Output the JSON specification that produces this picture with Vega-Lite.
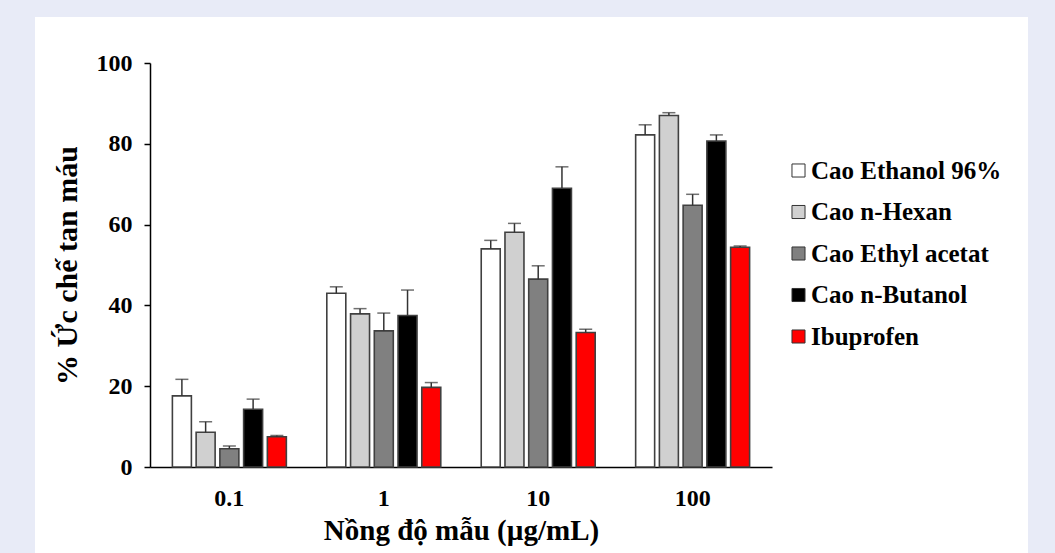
{
  "$schema": "https://vega.github.io/schema/vega-lite/v6.json",
  "width": 993,
  "height": 536,
  "autosize": {"type": "none"},
  "padding": {"left": 35, "top": 17, "right": 27, "bottom": 0},
  "background": "#e8ebf7",
  "config": {"view": {"fill": "white", "stroke": null}, "font": "Liberation Serif"},
  "data": {
    "values": [
      {"conc": "0.1", "series": "Cao Ethanol 96%", "mean": 17.6, "hi": 21.7},
      {"conc": "0.1", "series": "Cao n-Hexan", "mean": 8.6, "hi": 11.2},
      {"conc": "0.1", "series": "Cao Ethyl acetat", "mean": 4.5, "hi": 5.2},
      {"conc": "0.1", "series": "Cao n-Butanol", "mean": 14.3, "hi": 16.8},
      {"conc": "0.1", "series": "Ibuprofen", "mean": 7.5, "hi": 7.8},
      {"conc": "1", "series": "Cao Ethanol 96%", "mean": 43.0, "hi": 44.6},
      {"conc": "1", "series": "Cao n-Hexan", "mean": 37.9, "hi": 39.2},
      {"conc": "1", "series": "Cao Ethyl acetat", "mean": 33.7, "hi": 38.1},
      {"conc": "1", "series": "Cao n-Butanol", "mean": 37.5, "hi": 43.8},
      {"conc": "1", "series": "Ibuprofen", "mean": 19.7, "hi": 20.9},
      {"conc": "10", "series": "Cao Ethanol 96%", "mean": 54.0, "hi": 56.1},
      {"conc": "10", "series": "Cao n-Hexan", "mean": 58.1, "hi": 60.3},
      {"conc": "10", "series": "Cao Ethyl acetat", "mean": 46.5, "hi": 49.8},
      {"conc": "10", "series": "Cao n-Butanol", "mean": 69.0, "hi": 74.3},
      {"conc": "10", "series": "Ibuprofen", "mean": 33.3, "hi": 34.1},
      {"conc": "100", "series": "Cao Ethanol 96%", "mean": 82.2, "hi": 84.7},
      {"conc": "100", "series": "Cao n-Hexan", "mean": 87.0, "hi": 87.7},
      {"conc": "100", "series": "Cao Ethyl acetat", "mean": 64.8, "hi": 67.5},
      {"conc": "100", "series": "Cao n-Butanol", "mean": 80.7, "hi": 82.2},
      {"conc": "100", "series": "Ibuprofen", "mean": 54.4, "hi": 54.7}
    ]
  },
  "encoding": {
    "x": {
      "field": "conc",
      "type": "nominal",
      "sort": ["0.1", "1", "10", "100"],
      "scale": {"range": [115, 737], "paddingInner": 0.262, "paddingOuter": 0.145},
      "axis": {
        "title": "Nồng độ mẫu (µg/mL)",
        "labelAngle": 0,
        "offset": -86,
        "ticks": false,
        "labelPadding": 19,
        "labelFont": "Liberation Serif",
        "labelFontSize": 24,
        "labelFontWeight": "bold",
        "labelColor": "#000",
        "domainColor": "#000",
        "domainWidth": 1.5,
        "titleFont": "Liberation Serif",
        "titleFontSize": 29,
        "titleFontWeight": "bold",
        "titleColor": "#000",
        "titlePadding": 6
      }
    },
    "xOffset": {
      "field": "series",
      "type": "nominal",
      "sort": ["Cao Ethanol 96%", "Cao n-Hexan", "Cao Ethyl acetat", "Cao n-Butanol", "Ibuprofen"],
      "scale": {"paddingInner": 0.2, "paddingOuter": 0}
    },
    "y": {
      "field": "mean",
      "type": "quantitative",
      "title": "% Ức chế tan máu",
      "scale": {"domain": [0, 100], "range": [450, 46], "nice": false},
      "axis": {
        "values": [0, 20, 40, 60, 80, 100],
        "offset": -115,
        "grid": false,
        "tickSize": 6,
        "tickWidth": 1.5,
        "tickColor": "#000",
        "domainColor": "#000",
        "domainWidth": 1.5,
        "labelFont": "Liberation Serif",
        "labelFontSize": 24,
        "labelFontWeight": "bold",
        "labelColor": "#000",
        "labelPadding": 12,
        "titleFont": "Liberation Serif",
        "titleFontSize": 30,
        "titleFontWeight": "bold",
        "titleColor": "#000",
        "titlePadding": 14
      }
    }
  },
  "layer": [
    {
      "mark": {"type": "bar", "stroke": "#404040", "strokeWidth": 1.6},
      "encoding": {
        "fill": {
          "field": "series",
          "type": "nominal",
          "sort": ["Cao Ethanol 96%", "Cao n-Hexan", "Cao Ethyl acetat", "Cao n-Butanol", "Ibuprofen"],
          "scale": {
            "domain": ["Cao Ethanol 96%", "Cao n-Hexan", "Cao Ethyl acetat", "Cao n-Butanol", "Ibuprofen"],
            "range": ["#ffffff", "#d0d0d0", "#808080", "#000000", "#ff0000"]
          },
          "legend": {
            "orient": "none",
            "legendX": 751,
            "legendY": 141,
            "title": null,
            "padding": 0,
            "labelFont": "Liberation Serif",
            "labelFontSize": 25,
            "labelFontWeight": "bold",
            "labelColor": "#000",
            "labelLimit": 0,
            "symbolType": "square",
            "symbolSize": 170,
            "symbolStrokeColor": "#333",
            "symbolStrokeWidth": 1,
            "symbolOpacity": 1,
            "rowPadding": 15.5,
            "labelOffset": 0
          }
        }
      }
    },
    {
      "mark": {"type": "rule", "color": "#333", "strokeWidth": 1.5},
      "encoding": {"y2": {"field": "hi"}}
    },
    {
      "mark": {"type": "tick", "color": "#333", "size": 13, "thickness": 1.5},
      "encoding": {"y": {"field": "hi", "type": "quantitative", "title": "% Ức chế tan máu"}}
    }
  ]
}
